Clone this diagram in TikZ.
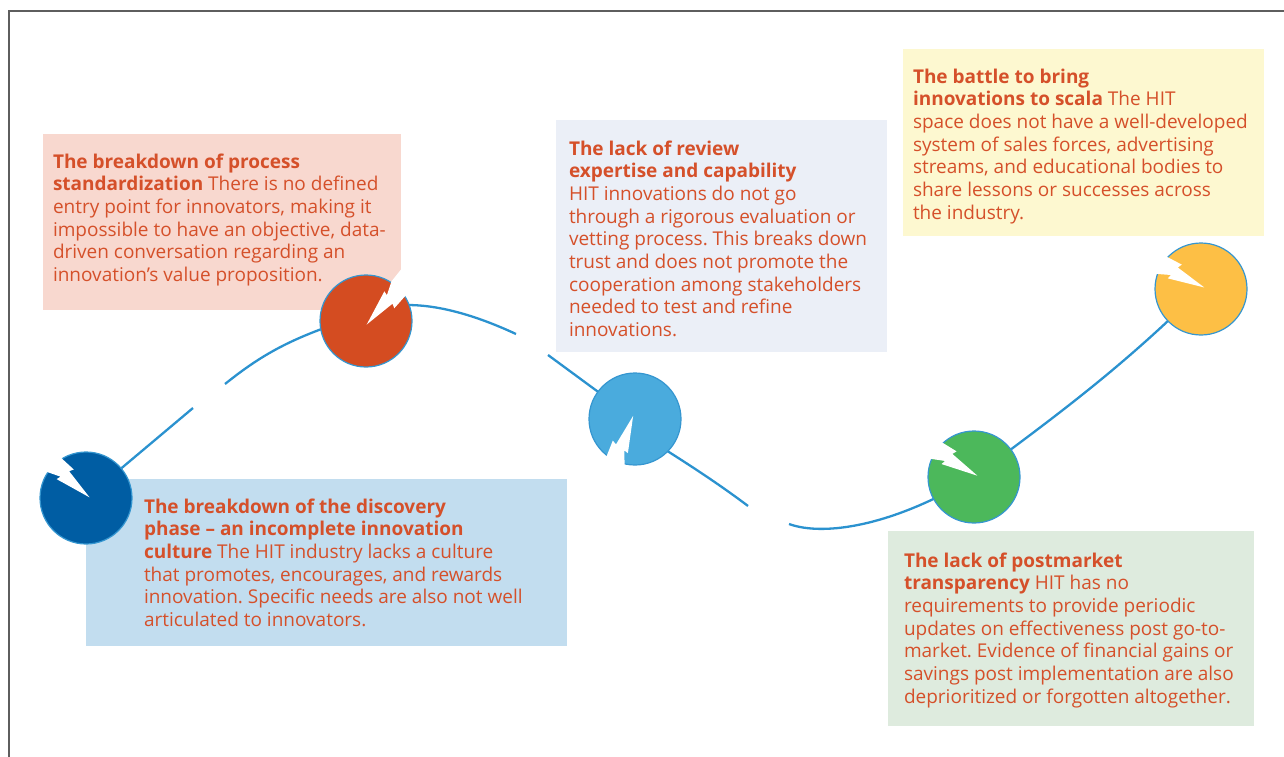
\documentclass[tikz,border=0pt]{standalone}
\usepackage{fontspec}
\setmainfont{Open Sans}

\definecolor{txt}{HTML}{D5502A}
\definecolor{wire}{HTML}{2B92CF}
\definecolor{rim}{HTML}{3596D0}
\definecolor{frame}{HTML}{5E5E5E}
\definecolor{bgpink}{HTML}{F8D8CF}
\definecolor{bgblue}{HTML}{C2DDEF}
\definecolor{bgmist}{HTML}{EBEFF7}
\definecolor{bgsand}{HTML}{FDF8D0}
\definecolor{bgsage}{HTML}{DEEBDE}
\definecolor{cnavy}{HTML}{005DA3}
\definecolor{cbrick}{HTML}{D44C21}
\definecolor{csky}{HTML}{4AABDD}
\definecolor{cleaf}{HTML}{4CB85B}
\definecolor{camber}{HTML}{FDBF45}

\tikzset{
  panel/.style={anchor=north west, inner sep=0pt, outer sep=0pt},
  caption/.style={anchor=north west, inner sep=0pt, outer sep=0pt, align=left,
    text=txt, font=\fontsize{19}{22.7}\selectfont\frenchspacing},
  milestone/.style={circle, inner sep=0pt, minimum size=92pt, draw=rim, line width=1.2pt},
  road/.style={draw=wire, line width=2.3pt},
  notch/.pic={
    \fill[white] (64pt,-12pt) -- (46pt,-10pt) -- (29pt,-11pt) -- (31pt,-6.5pt)
      -- (-2pt,-3pt) -- (34pt,8pt) -- (33pt,3.5pt) -- (46pt,10pt) -- (64pt,12pt) -- cycle;
  }
}

\newcommand{\firstline}{\rule{0pt}{15pt}}

\begin{document}
\begin{tikzpicture}[x=1pt,y=-1pt]
\useasboundingbox (0,0) rectangle (1284,757);

% outer frame (top and left rules)
\draw[frame, line width=1.5pt] (9,757) -- (9,11) -- (1284,11);

% coloured panels
\node[panel, fill=bgpink, minimum width=358pt, minimum height=176pt] (p1) at (43,134) {};
\node[panel, fill=bgblue, minimum width=481pt, minimum height=167pt] (p2) at (86,479) {};
\node[panel, fill=bgmist, minimum width=331pt, minimum height=232pt] (p3) at (556,120) {};
\node[panel, fill=bgsand, minimum width=361pt, minimum height=187pt] (p4) at (903,49) {};
\node[panel, fill=bgsage, minimum width=366pt, minimum height=195pt] (p5) at (888,531) {};

% milestones along the road
\coordinate (m1) at (86,498);
\coordinate (m2) at (366,321);
\coordinate (m3) at (635,419);
\coordinate (m4) at (974,477);
\coordinate (m5) at (1201,289);

% the winding road, with its breaks
\coordinate (r1) at (193,408);
\coordinate (r2) at (225,384);
\coordinate (r3) at (516,334);
\coordinate (r4) at (548,355);
\coordinate (r5) at (748,506);
\coordinate (r6) at (789,524);
\path[road] (m1) -- (r1);
\path[road] (r2) .. controls (265,352) and (295,336) .. (366,314);
\path[road] (380,308) .. controls (415,300) and (460,308) .. (r3);
\path[road] (r4) -- (m3);
\path[road] (650,440) .. controls (680,459) and (715,481) .. (r5);
\path[road] (r6) .. controls (825,537) and (895,525) .. (m4);
\path[road] (m4) .. controls (1050,420) and (1120,370) .. (m5);

% milestone discs
\node[milestone, fill=cnavy] (c1) at (m1) {};
\node[milestone, fill=cbrick] (c2) at (m2) {};
\node[milestone, fill=csky] (c3) at (m3) {};
\node[milestone, fill=cleaf] (c4) at (m4) {};
\node[milestone, fill=camber] (c5) at (m5) {};

% lightning cuts
\path (c1.center) pic[rotate=134] {notch};
\path (c2.center) pic[rotate=45] {notch};
\path (c3.center) pic[rotate=245] {notch};
\path (c4.center) pic[rotate=145] {notch};
\path (c5.center) pic[rotate=149] {notch};

% panel texts
\node[caption] (t1) at (53,153) {\firstline\textbf{The breakdown of process}\\
\textbf{standardization} There is no defined\\
entry point for innovators, making it\\
impossible to have an objective, data-\\
driven conversation regarding an\\
innovation’s value proposition.};

\node[caption] (t2) at (144,498) {\firstline\textbf{The breakdown of the discovery}\\
\textbf{phase – an incomplete innovation}\\
\textbf{culture} The HIT industry lacks a culture\\
that promotes, encourages, and rewards\\
innovation. Specific needs are also not well\\
articulated to innovators.};

\node[caption] (t3) at (569,140) {\firstline\textbf{The lack of review}\\
\textbf{expertise and capability}\\
HIT innovations do not go\\
through a rigorous evaluation or\\
vetting process. This breaks down\\
trust and does not promote the\\
cooperation among stakeholders\\
needed to test and refine\\
innovations.};

\node[caption] (t4) at (913,68) {\firstline\textbf{The battle to bring}\\
\textbf{innovations to scala} The HIT\\
space does not have a well-developed\\
system of sales forces, advertising\\
streams, and educational bodies to\\
share lessons or successes across\\
the industry.};

\node[caption] (t5) at (904,552) {\firstline\textbf{The lack of postmarket}\\
\textbf{transparency} HIT has no\\
requirements to provide periodic\\
updates on effectiveness post go-to-\\
market. Evidence of financial gains or\\
savings post implementation are also\\
deprioritized or forgotten altogether.};
\end{tikzpicture}
\end{document}
